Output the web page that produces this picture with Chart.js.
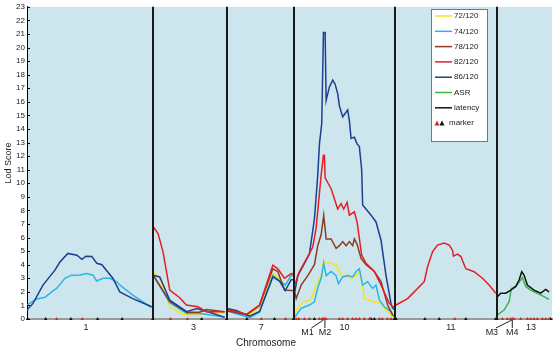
<!DOCTYPE html>
<html>
<head>
<meta charset="utf-8">
<script src="https://cdn.jsdelivr.net/npm/chart.js@4.4.1/dist/chart.umd.min.js"></script>
<style>
  html, body { margin: 0; padding: 0; background: #fff; }
</style>
</head>
<body>
<canvas id="myChart" width="556" height="350"></canvas>
<script>
// chromosome layout (position units along the genome axis)
const chromNames = ['1', '3', '7', '10', '11', '13'];
const chromStart = [0, 126, 200, 268, 369, 471];
const chromEnd = 526;
const chromLabelPos = [59, 166.7, 234.7, 318, 424.7, 505];

// LOD curves
const pos72 = [126.5, 133, 143, 156.3, 169.7, 179.7, 198,
  200.3, 213, 223, 233, 246.3, 253, 258, 264.7, 267.5,
  268.3, 273, 278, 284.7, 289.7, 294.7, 297.3, 299.7, 304.7, 309.7, 314.7, 319.7, 324.7, 329.7, 333, 336.3, 338, 348, 354.7, 359.7, 366.3];
const lod72 = [3.48, 3.0, 0.9, 0.34, 0.3, 0.4, 0.5,
  0.83, 0.4, 0.3, 0.9, 3.35, 3.0, 2.5, 3.2, 3.2,
  0.4, 1.0, 1.27, 1.4, 2.5, 3.2, 4.34, 4.1, 4.1, 4.0, 3.2, 3.2, 3.0, 3.2, 3.5, 2.5, 1.5, 1.27, 1.15, 0.66, 0.17];

const pos74 = [0, 9.7, 18, 24.7, 29.7, 38, 44.7, 53, 59.7, 66.3, 69.7, 76.3, 83, 89.7, 94.7, 106, 124.7,
  126.5, 143, 160, 173, 198,
  200.3, 223, 233, 246.3, 258.7, 264.7, 267.5,
  268.3, 274.7, 283, 288, 291.3, 294.7, 297.3, 299.7, 304.7, 309.7, 312, 316.3, 321.3, 326.3, 329.7, 333, 336.3, 341.3, 346.3, 349.7, 353, 358, 364.7, 366.3];
const lod74 = [1.03, 1.47, 1.6, 2.0, 2.25, 3.0, 3.23, 3.25, 3.35, 3.23, 2.8, 3.0, 3.0, 2.75, 2.4, 1.76, 0.83,
  3.2, 1.2, 0.4, 0.4, 0.15,
  0.6, 0.1, 0.5, 3.2, 2.5, 3.2, 3.2,
  0.15, 0.78, 1.03, 1.27, 2.3, 3.0, 4.1, 3.2, 3.5, 3.2, 2.6, 3.1, 3.2, 3.1, 3.5, 3.7, 2.5, 2.75, 2.25, 2.5, 1.4, 0.9, 0.55, 0.3];

const pos78 = [126.5, 143, 160, 173, 179.7, 198,
  200.3, 220, 233, 246.3, 251.3, 258, 264.7, 267.5,
  268.3, 269.7, 274.7, 281.3, 288, 291.3, 294.7, 297.3, 299.7, 304.7, 309.7, 313, 316.3, 319.7, 323, 326.3, 328, 330.7, 334.7, 339.7, 348, 354.7, 361.3, 366.3, 368];
const lod78 = [3.23, 1.3, 0.5, 0.5, 0.7, 0.54,
  0.6, 0.3, 1.0, 3.7, 3.5, 2.13, 2.1, 2.1,
  2.0, 1.5, 2.5, 3.2, 4.0, 5.4, 6.2, 7.65, 5.9, 5.9, 5.2, 5.4, 5.7, 5.4, 5.7, 5.4, 5.9, 5.5, 4.46, 4.0, 3.5, 2.75, 1.03, 0.3, 0.2];

const pos82 = [126.5, 131.3, 136.3, 143, 153, 159.7, 171.3, 179.7, 198,
  200.3, 219.7, 233, 246.3, 251.3, 258, 264.7, 267.5,
  268.3, 273, 281.3, 286.3, 289.7, 294.7, 297, 298, 298.7, 304.7, 311.3, 314.7, 317.3, 320.7, 323, 328, 330.7, 335.3, 339.7, 348, 354.7, 363, 366.3, 368,
  369.7, 381.3, 388, 398, 401.3, 406.3, 411.3, 418, 423, 426.3, 427.3, 431.3, 434.7, 438, 439.7, 448, 456.3, 463, 469.7];
const lod82 = [6.8, 6.3, 4.95, 2.13, 1.57, 1.03, 0.9, 0.54, 0.54,
  0.7, 0.35, 1.03, 3.97, 3.7, 3.0, 3.35, 3.3,
  2.5, 3.5, 4.6, 5.3, 6.7, 10.6, 12.06, 12.06, 10.4, 9.6, 8.1, 8.5, 8.1, 8.6, 7.65, 7.9, 7.15, 4.7, 4.1, 3.5, 2.5, 1.15, 0.9, 0.9,
  1.03, 1.5, 2.0, 2.75, 3.85, 4.95, 5.44, 5.6, 5.44, 5.07, 4.63, 4.78, 4.6, 4.0, 3.7, 3.48, 3.0, 2.5, 1.9];

const pos86 = [0, 6, 16, 28, 33, 41, 50, 55, 59, 65, 70, 75, 86, 93, 106, 125,
  126.5, 133, 143, 160, 170, 183, 198,
  200.3, 209.7, 223, 233, 246.3, 253, 258.7, 264.7, 267.5,
  268.3, 271.3, 278, 283, 288, 291.3, 293, 295.3, 297, 298.7, 299.7, 303, 306.3, 308.7, 311.3, 313, 316.3, 321.3, 323, 324.7, 328, 330.7, 333, 335.3, 336.3, 344.7, 349.7, 354.7, 359.7, 364.7, 366.3, 368];
const lod86 = [0.66, 1.15, 2.5, 3.6, 4.2, 4.83, 4.7, 4.4, 4.63, 4.6, 4.1, 4.0, 3.0, 2.0, 1.5, 0.9,
  3.23, 3.1, 1.4, 0.54, 0.78, 0.5, 0.12,
  0.78, 0.63, 0.2, 0.55, 3.1, 2.8, 2.1, 2.9, 2.9,
  2.0, 3.2, 4.1, 4.8, 7.4, 10.6, 12.9, 14.4, 21.1, 21.1, 16.1, 17.1, 17.6, 17.3, 16.6, 15.7, 14.9, 15.4, 14.6, 13.3, 13.4, 12.9, 12.7, 11.0, 8.4, 7.65, 7.15, 5.8, 3.2, 1.15, 0.8, 0.7];

const posASR = [471.3, 478, 483, 485.3, 489.7, 494, 496.3, 499.7, 504.7, 511.3, 518, 523];
const lodASR = [0.3, 0.66, 1.27, 2.25, 2.4, 2.8, 3.06, 2.4, 2.13, 1.9, 1.65, 1.44];

const posLat = [471.3, 474.7, 479.7, 484.7, 489.7, 493, 495.7, 498, 501.3, 508, 514.7, 519.7, 523];
const lodLat = [1.65, 1.9, 1.9, 2.13, 2.4, 2.87, 3.48, 3.24, 2.5, 2.13, 1.9, 2.18, 2.0];

// markers on the axis
const markerRed = [29.7, 55.3, 143.7, 160.7, 234.7, 259, 269.7, 272.3, 278, 283, 293, 295.7, 297, 298.3, 299.7,
  313, 316.3, 321.3, 326.3, 329.7, 333, 338, 343, 353, 356, 361, 364.7,
  428.7, 476.3, 481.3, 484.7, 486.3, 488, 494.7, 501.3, 504.7, 508, 511.3, 516.3, 519.7, 523];
const markerBlack = [0.7, 18.7, 44, 70.7, 95.3, 126, 175, 200, 220.3, 248, 267, 288, 344.7, 348, 368,
  369.7, 398.7, 413, 439.7, 469.7, 471, 524.7];
const namedMarkers = ['M1', 'M2', 'M3', 'M4'];
const namedMarkerPos = [297, 298.5, 485.8, 486.2];

// 염색체 경계에서 선 끊기
function toPoints(pos, lod) {
  const pts = [];
  for (let i = 0; i < pos.length; i++) {
    if (i > 0) {
      const b = chromStart.find(s => s > pos[i - 1] && s <= pos[i]);
      if (b !== undefined) pts.push({x: b, y: null});
    }
    pts.push({x: pos[i], y: lod[i]});
  }
  return pts;
}

function lineSet(label, color, pos, lod) {
  return {
    type: 'line',
    label: label,
    data: toPoints(pos, lod),
    borderColor: color,
    backgroundColor: color,
    borderWidth: 1.5,
    pointRadius: 0,
    tension: 0,
    spanGaps: false
  };
}

const datasets = [
  {
    type: 'scatter',
    label: 'marker',
    data: markerRed.map(v => ({x: v, y: 0})),
    pointStyle: 'triangle',
    pointRadius: 2,
    backgroundColor: '#e2231a',
    borderColor: '#e2231a',
    borderWidth: 0,
    clip: false
  },
  {
    type: 'scatter',
    label: 'marker_b',
    data: markerBlack.map(v => ({x: v, y: 0})),
    pointStyle: 'triangle',
    pointRadius: 2,
    backgroundColor: '#111',
    borderColor: '#111',
    borderWidth: 0,
    clip: false
  },
  lineSet('latency', '#111111', posLat, lodLat),
  lineSet('ASR', '#3bb54a', posASR, lodASR),
  lineSet('82/120', '#e31e24', pos82, lod82),
  lineSet('86/120', '#1d3f8f', pos86, lod86),
  lineSet('78/120', '#8e3b24', pos78, lod78),
  lineSet('74/120', '#2bb5e6', pos74, lod74),
  lineSet('72/120', '#f2e51b', pos72, lod72)
];

const legendOrder = ['72/120', '74/120', '78/120', '82/120', '86/120', 'ASR', 'latency'];
const FONT = 'Liberation Sans, Arial, sans-serif';

const deco = {
  id: 'deco',
  beforeDraw(chart) {
    const {ctx, chartArea: a} = chart;
    ctx.save();
    ctx.fillStyle = '#cde6ee';
    ctx.fillRect(a.left, a.top, a.right - a.left, a.bottom - a.top);
    ctx.restore();
  },
  afterDatasetsDraw(chart) {
    const {ctx, chartArea: a, scales} = chart;
    ctx.save();
    // chromosome dividers
    ctx.strokeStyle = '#1a1a1a';
    ctx.lineWidth = 2;
    chromStart.slice(1).forEach(function (s) {
      const px = Math.round(scales.x.getPixelForValue(s));
      ctx.beginPath();
      ctx.moveTo(px, a.top);
      ctx.lineTo(px, a.bottom);
      ctx.stroke();
    });
    ctx.restore();
  },
  afterDraw(chart) {
    const {ctx, chartArea: a, scales} = chart;
    ctx.save();
    // y ticks pointing inward
    ctx.strokeStyle = '#000';
    ctx.lineWidth = 1;
    scales.y.ticks.forEach(function (t) {
      const py = Math.round(scales.y.getPixelForValue(t.value)) + 0.5;
      ctx.beginPath();
      ctx.moveTo(a.left, py);
      ctx.lineTo(a.left + 3, py);
      ctx.stroke();
    });

    // named markers
    const dx = [-16, 0, -20, 0];
    ctx.font = '9px ' + FONT;
    ctx.fillStyle = '#222';
    ctx.textAlign = 'center';
    ctx.textBaseline = 'middle';
    ctx.strokeStyle = '#222';
    namedMarkers.forEach(function (name, i) {
      const px = scales.x.getPixelForValue(namedMarkerPos[i]);
      const lx = px + dx[i];
      ctx.beginPath();
      ctx.moveTo(px, a.bottom + 1);
      ctx.lineTo(dx[i] === 0 ? px : lx + 4, a.bottom + 9);
      ctx.stroke();
      ctx.fillText(name, lx, a.bottom + 14);
    });

    // x title
    ctx.font = '10px ' + FONT;
    ctx.fillText('Chromosome', a.left + 239, a.bottom + 24);

    // legend
    const lx = 431, ly = 9, lw = 56, lh = 132;
    ctx.fillStyle = '#fff';
    ctx.fillRect(lx, ly, lw, lh);
    ctx.strokeStyle = '#777';
    ctx.lineWidth = 1;
    ctx.strokeRect(lx + 0.5, ly + 0.5, lw, lh);
    ctx.font = '8px ' + FONT;
    ctx.textAlign = 'left';
    legendOrder.forEach(function (lab, i) {
      const ds = chart.data.datasets.find(d => d.label === lab);
      const y = ly + 7 + i * 15.3;
      ctx.strokeStyle = ds.borderColor;
      ctx.lineWidth = 1.5;
      ctx.beginPath();
      ctx.moveTo(lx + 4, y);
      ctx.lineTo(lx + 21, y);
      ctx.stroke();
      ctx.fillStyle = '#222';
      ctx.fillText(lab, lx + 23, y);
    });
    const my = ly + 7 + 7 * 15.3;
    [['#e2231a', lx + 6], ['#111', lx + 11]].forEach(function (m) {
      ctx.fillStyle = m[0];
      ctx.beginPath();
      ctx.moveTo(m[1] - 2.5, my + 2.5);
      ctx.lineTo(m[1] + 2.5, my + 2.5);
      ctx.lineTo(m[1], my - 2.5);
      ctx.closePath();
      ctx.fill();
    });
    ctx.fillStyle = '#222';
    ctx.fillText('marker', lx + 18, my);
    ctx.restore();
  }
};

const config = {
  data: {datasets: datasets},
  options: {
    responsive: false,
    animation: false,
    layout: {padding: {top: 6, right: 3, left: 0, bottom: 0}},
    plugins: {
      legend: {display: false},
      tooltip: {enabled: false}
    },
    scales: {
      x: {
        type: 'linear',
        min: 0,
        max: chromEnd,
        afterFit: function (s) { s.height = 31; },
        afterBuildTicks: function (s) {
          s.ticks = chromLabelPos.map(v => ({value: v}));
        },
        ticks: {
          autoSkip: false,
          maxRotation: 0,
          padding: 3,
          color: '#222',
          font: {family: FONT, size: 9},
          callback: function (v, i) { return chromNames[i]; }
        },
        grid: {display: false, drawTicks: false},
        border: {display: true, color: '#9a9a9a', width: 2}
      },
      y: {
        min: 0,
        max: 23,
        afterFit: function (s) { s.width = 27; },
        ticks: {
          stepSize: 1,
          padding: 2,
          color: '#222',
          font: {family: FONT, size: 8}
        },
        grid: {display: false, drawTicks: false},
        border: {display: true, color: '#000', width: 1},
        title: {
          display: true,
          text: 'Lod Score',
          color: '#222',
          padding: 3,
          font: {family: FONT, size: 9}
        }
      }
    }
  },
  plugins: [deco]
};

const myChart = new Chart(document.getElementById('myChart'), config);
</script>
</body>
</html>
